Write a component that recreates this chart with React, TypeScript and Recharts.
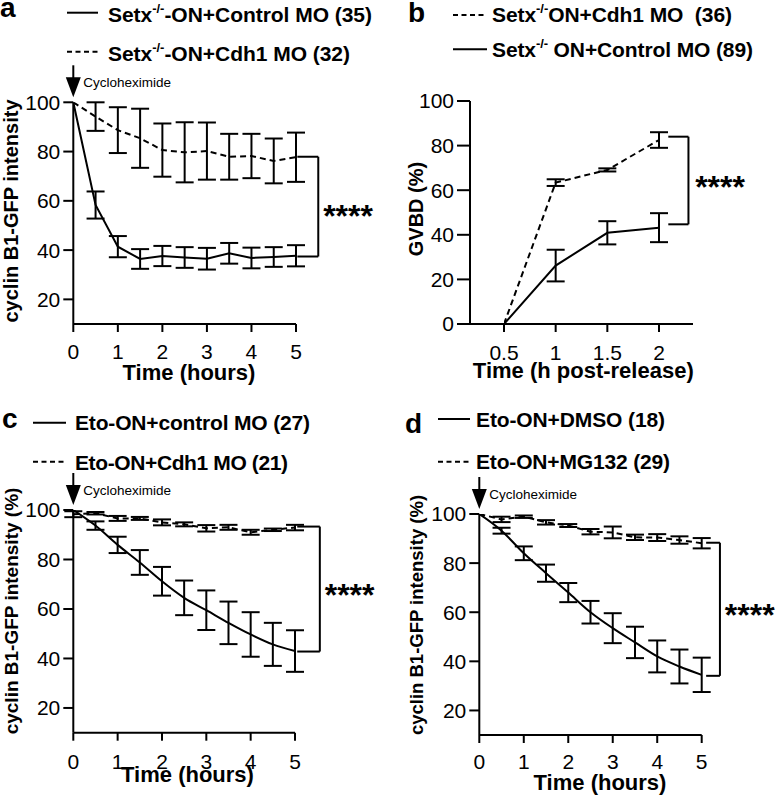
import React from 'react';
import { LineChart, Line, XAxis, YAxis, ErrorBar, ReferenceLine, ReferenceDot } from 'recharts';

const FONT = '"Liberation Sans", Arial, Helvetica, sans-serif';

// panel a: Setx-/- oocytes, cycloheximide chase
const hoursA = [0, 0.5, 1, 1.5, 2, 2.5, 3, 3.5, 4, 4.5, 5];
const aControl = [100, 58.3, 41.4, 36.4, 37.6, 37.0, 36.5, 38.7, 36.8, 37.2, 37.7];
const aControlErr = [0, 5.5, 4.3, 4.0, 4.1, 4.2, 4.4, 4.2, 4.2, 4.0, 4.3];
const aCdh1 = [100, 94.2, 88.7, 85.4, 80.6, 79.7, 80.2, 77.9, 78.2, 76.2, 77.7];
const aCdh1Err = [0, 5.8, 9.3, 12.0, 10.8, 12.2, 11.6, 9.3, 9.0, 9.1, 10.0];

// panel b: GVBD
const hoursB = [0.5, 1, 1.5, 2];
const bCdh1 = [0, 63.4, 69.1, 82.5];
const bCdh1Err = [0, 1.5, 0.7, 3.5];
const bControl = [0, 26.2, 40.9, 43.2];
const bControlErr = [0, 7.1, 5.2, 6.5];

// panel c: Eto-ON
const cControl = [100, 93.7, 85.9, 78.8, 71.2, 64.5, 59.5, 54.4, 49.7, 45.7, 43.0];
const cControlErr = [0, 1.7, 3.3, 5.0, 5.8, 7.0, 8.0, 8.6, 9.0, 8.7, 8.4];
const cCdh1 = [98.3, 98.7, 96.6, 96.6, 95.0, 94.2, 92.6, 93.0, 91.0, 92.0, 92.9];
const cCdh1Err = [1.2, 0.5, 1.0, 0.6, 1.2, 0.8, 1.3, 1.0, 1.0, 0.5, 1.1];

// panel d: DMSO vs MG132
const dDmso = [100, 93.2, 84.0, 75.9, 68.0, 60.0, 53.5, 47.7, 42.0, 37.9, 34.5];
const dDmsoErr = [0, 1.2, 2.8, 3.5, 3.9, 4.6, 6.1, 6.4, 6.5, 6.9, 7.0];
const dMg132 = [100, 97.8, 98.9, 96.6, 95.3, 92.8, 92.5, 90.5, 90.4, 89.4, 88.1];
const dMg132Err = [0, 1.1, 0.5, 0.9, 0.6, 1.1, 2.4, 1.1, 1.4, 1.5, 2.1];

const hourTicks = [0, 1, 2, 3, 4, 5];
const pctTicks = [20, 40, 60, 80, 100];
const gvbdTicks = [0, 20, 40, 60, 80, 100];
const halfTicks = [0.5, 1, 1.5, 2];

const rows = (t: number[], s1: number[], e1: number[], s2: number[], e2: number[]) =>
  t.map((x, i) => ({ t: x, s1: s1[i], e1: e1[i], s2: s2[i], e2: e2[i] }));

const axisLine = { stroke: '#000', strokeWidth: 2 };
const TICK_FS = 21;

const xTick = (p: any) => (
  <text
    x={p.x}
    y={p.y}
    dy={TICK_FS * 0.71}
    textAnchor="middle"
    fontFamily={FONT}
    fill="#000"
    style={{ fontSize: TICK_FS }}
  >
    {p.payload.value}
  </text>
);
const yTick = (p: any) => (
  <text
    x={p.x}
    y={p.y}
    dy={TICK_FS * 0.355}
    textAnchor="end"
    fontFamily={FONT}
    fill="#000"
    style={{ fontSize: TICK_FS }}
  >
    {p.payload.value}
  </text>
);

const Arrow = (p: any) => {
  const { cx, cy } = p;
  return (
    <g>
      <line x1={cx} x2={cx} y1={cy - 37} y2={cy - 22} stroke="#000" strokeWidth={2} />
      <polygon points={`${cx - 7.5},${cy - 25} ${cx + 7.5},${cy - 25} ${cx},${cy - 5}`} fill="#000" />
      <text x={cx + 10} y={cy - 15} fontSize={13.5} fontFamily={FONT} fill="#000">Cycloheximide</text>
    </g>
  );
};

const Stars = (p: any) => (
  <text x={p.cx} y={p.cy + 18} fontSize={32} fontWeight="bold" fontFamily={FONT} fill="#000">****</text>
);

type Legend = { y: number; base: number; dashed: boolean; len: number; parts: React.ReactNode };

type PanelProps = {
  left: number; top: number; width: number; height: number;
  margin: { top: number; right: number; bottom: number; left: number };
  yWidth: number; xHeight: number;
  data: any[];
  s1Dashed: boolean; s1Type: 'linear' | 'monotone'; s2Type: 'linear' | 'monotone';
  xDomain: [number, number]; xTicks: number[]; xPad?: number;
  yDomain: [number, number]; yTicks: number[];
  yTick: [number, number]; xTick: [number, number];
  bracket: [number, number, number, number];
  stars: [number, number];
  arrow: boolean;
  letter: string; letterX: number; letterBase: number;
  legendX: [number, number, number];
  legends: Legend[];
  yTitle: string; yTitleX: number; yTitleY: number; yTitleSize: number;
  xTitle: string; xTitleX: number; xTitleY: number;
};

const Panel = (p: PanelProps) => {
  const [bx0, bx1, btop, bbot] = p.bracket;
  return (
    <div style={{ position: 'absolute', left: p.left, top: p.top, width: p.width, height: p.height }}>
      <LineChart width={p.width} height={p.height} data={p.data} margin={p.margin}>
        <XAxis
          type="number"
          dataKey="t"
          domain={p.xDomain}
          ticks={p.xTicks}
          allowDataOverflow
          padding={p.xPad ? { left: p.xPad, right: p.xPad } : undefined}
          height={p.xHeight}
          axisLine={axisLine}
          tickLine={axisLine}
          tickSize={p.xTick[0]}
          tickMargin={p.xTick[1]}
          fontSize={TICK_FS}
          tick={xTick}
        />
        <YAxis
          type="number"
          domain={p.yDomain}
          ticks={p.yTicks}
          allowDataOverflow
          width={p.yWidth}
          axisLine={axisLine}
          tickLine={axisLine}
          tickSize={p.yTick[0]}
          tickMargin={p.yTick[1]}
          fontSize={TICK_FS}
          tick={yTick}
        />
        <Line
          dataKey="s1"
          type={p.s1Type}
          stroke="#000"
          strokeWidth={2}
          strokeDasharray={p.s1Dashed ? '6 4' : undefined}
          dot={false}
          isAnimationActive={false}
        >
          <ErrorBar dataKey="e1" direction="y" width={9} stroke="#000" strokeWidth={2} isAnimationActive={false} />
        </Line>
        <Line
          dataKey="s2"
          type={p.s2Type}
          stroke="#000"
          strokeWidth={2}
          strokeDasharray={p.s1Dashed ? undefined : '6 4'}
          dot={false}
          isAnimationActive={false}
        >
          <ErrorBar dataKey="e2" direction="y" width={9} stroke="#000" strokeWidth={2} isAnimationActive={false} />
        </Line>
        <ReferenceLine segment={[{ x: bx0, y: btop }, { x: bx1, y: btop }]} stroke="#000" strokeWidth={2} ifOverflow="visible" />
        <ReferenceLine segment={[{ x: bx1, y: btop }, { x: bx1, y: bbot }]} stroke="#000" strokeWidth={2} ifOverflow="visible" />
        <ReferenceLine segment={[{ x: bx0, y: bbot }, { x: bx1, y: bbot }]} stroke="#000" strokeWidth={2} ifOverflow="visible" />
        <ReferenceDot x={p.stars[0]} y={p.stars[1]} ifOverflow="visible" shape={Stars} />
        {p.arrow && <ReferenceDot x={0} y={100} ifOverflow="visible" shape={Arrow} />}
      </LineChart>
      <svg
        width={p.width}
        height={p.height}
        style={{ position: 'absolute', left: 0, top: 0, pointerEvents: 'none' }}
        fontFamily={FONT}
      >
        <text x={p.letterX} y={p.letterBase} fontSize={28} fontWeight="bold">{p.letter}</text>
        {p.legends.map((l, i) => (
          <g key={i}>
            <line
              x1={p.legendX[0]}
              x2={p.legendX[1]}
              y1={l.y}
              y2={l.y}
              stroke="#000"
              strokeWidth={2}
              strokeDasharray={l.dashed ? '5 3.5' : undefined}
            />
            <text
              x={p.legendX[2]}
              y={l.base}
              fontSize={21}
              fontWeight="bold"
              textLength={l.len}
              lengthAdjust="spacing"
              style={{ whiteSpace: 'pre' }}
            >
              {l.parts}
            </text>
          </g>
        ))}
        <text
          transform={`translate(${p.yTitleX},${p.yTitleY}) rotate(-90)`}
          textAnchor="middle"
          fontSize={p.yTitleSize}
          fontWeight="bold"
        >
          {p.yTitle}
        </text>
        <text x={p.xTitleX} y={p.xTitleY} textAnchor="middle" fontSize={22} fontWeight="bold">
          {p.xTitle}
        </text>
      </svg>
    </div>
  );
};

const sup = (s: string) => (
  <tspan fontSize={13} dy={-9}>{s}</tspan>
);
const back = (s: string) => (
  <tspan fontSize={21} dy={9}>{s}</tspan>
);

export default function App() {
  return (
    <div style={{ position: 'absolute', left: 0, top: 0, width: 777, height: 796, background: '#fff' }}>
      <Panel
        left={0} top={0} width={390} height={400}
        margin={{ top: 102.3, right: 94, bottom: 16, left: 0 }}
        yWidth={73.3} xHeight={60}
        data={rows(hoursA, aControl, aControlErr, aCdh1, aCdh1Err)}
        s1Dashed={false} s1Type="linear" s2Type="linear"
        xDomain={[0, 5]} xTicks={hourTicks}
        yDomain={[10, 100]} yTicks={pctTicks}
        yTick={[10, 3]} xTick={[8, 12]}
        bracket={[5.03, 5.5, 77.9, 37.4]}
        stars={[5.61, 56.7]}
        arrow
        letter="a" letterX={0} letterBase={17}
        legendX={[67, 98, 108]}
        legends={[
          { y: 12.7, base: 22, dashed: false, len: 264, parts: <>Setx{sup('-/-')}{back('-ON+Control MO (35)')}</> },
          { y: 51.7, base: 60.5, dashed: true, len: 242, parts: <>Setx{sup('-/-')}{back('-ON+Cdh1 MO (32)')}</> },
        ]}
        yTitle="cyclin B1-GFP intensity" yTitleX={18.3} yTitleY={211} yTitleSize={20}
        xTitle="Time (hours)" xTitleX={189} xTitleY={380}
      />
      <Panel
        left={390} top={0} width={387} height={400}
        margin={{ top: 101, right: 84, bottom: 16, left: 0 }}
        yWidth={80} xHeight={60}
        data={rows(hoursB, bCdh1, bCdh1Err, bControl, bControlErr)}
        s1Dashed={true} s1Type="linear" s2Type="linear"
        xDomain={[0.5, 2]} xTicks={halfTicks} xPad={34}
        yDomain={[0, 100]} yTicks={gvbdTicks}
        yTick={[13, 3]} xTick={[8, 13]}
        bracket={[2.09, 2.285, 84.0, 44.7]}
        stars={[2.35, 64.6]}
        arrow={false}
        letter="b" letterX={18} letterBase={22}
        legendX={[63, 97, 102]}
        legends={[
          { y: 15, base: 22, dashed: true, len: 240, parts: <>Setx{sup('-/-')}{back('ON+Cdh1 MO  (36)')}</> },
          { y: 49.3, base: 56.7, dashed: false, len: 261, parts: <>Setx{sup('-/-')}{back(' ON+Control MO (89)')}</> },
        ]}
        yTitle="GVBD (%)" yTitleX={32.7} yTitleY={209} yTitleSize={20}
        xTitle="Time (h post-release)" xTitleX={193.3} xTitleY={378}
      />
      <Panel
        left={0} top={400} width={390} height={396}
        margin={{ top: 110, right: 95, bottom: 3.3, left: 0 }}
        yWidth={73.3} xHeight={60}
        data={rows(hoursA, cControl, cControlErr, cCdh1, cCdh1Err)}
        s1Dashed={false} s1Type="monotone" s2Type="linear"
        xDomain={[0, 5]} xTicks={hourTicks}
        yDomain={[10, 100]} yTicks={pctTicks}
        yTick={[10, 3]} xTick={[8, 13]}
        bracket={[5.05, 5.56, 93.3, 42.8]}
        stars={[5.67, 68.6]}
        arrow
        letter="c" letterX={2} letterBase={28}
        legendX={[33, 66, 75]}
        legends={[
          { y: 22.7, base: 29.5, dashed: false, len: 235, parts: <>Eto-ON+control MO (27)</> },
          { y: 61.7, base: 70, dashed: true, len: 213, parts: <>Eto-ON+Cdh1 MO (21)</> },
        ]}
        yTitle="cyclin B1-GFP intensity (%)" yTitleX={18.3} yTitleY={211} yTitleSize={19}
        xTitle="Time (hours)" xTitleX={187.5} xTitleY={381.7}
      />
      <Panel
        left={390} top={400} width={387} height={396}
        margin={{ top: 114, right: 75.3, bottom: 6, left: 0 }}
        yWidth={89.3} xHeight={55}
        data={rows(hoursA, dDmso, dDmsoErr, dMg132, dMg132Err)}
        s1Dashed={false} s1Type="monotone" s2Type="linear"
        xDomain={[0, 5]} xTicks={hourTicks}
        yDomain={[10, 100]} yTicks={pctTicks}
        yTick={[10, 3]} xTick={[8, 11]}
        bracket={[5.1, 5.41, 88.3, 34.1]}
        stars={[5.52, 61.8]}
        arrow
        letter="d" letterX={15} letterBase={33}
        legendX={[48, 80, 86]}
        legends={[
          { y: 19, base: 27, dashed: false, len: 189, parts: <>Eto-ON+DMSO (18)</> },
          { y: 61.7, base: 68.5, dashed: true, len: 194, parts: <>Eto-ON+MG132 (29)</> },
        ]}
        yTitle="cyclin B1-GFP intensity (%)" yTitleX={33} yTitleY={215} yTitleSize={18.5}
        xTitle="Time (hours)" xTitleX={210} xTitleY={390}
      />
    </div>
  );
}
